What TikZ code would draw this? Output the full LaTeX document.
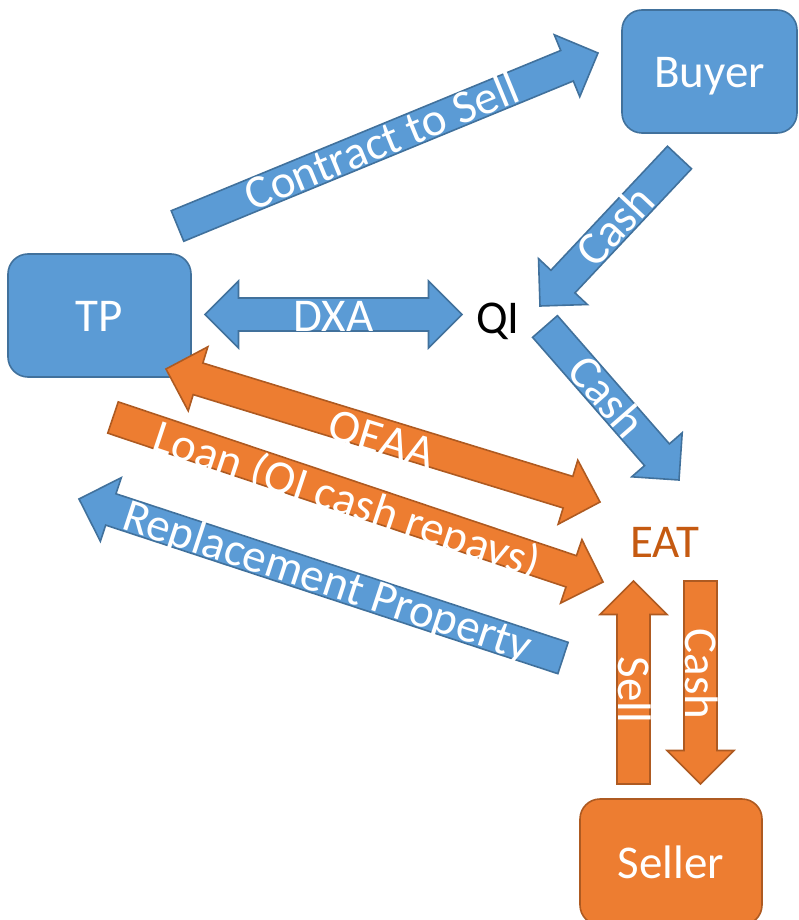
\documentclass[tikz,border=0pt]{standalone}
\usepackage{fontspec}
\setmainfont{Carlito}
\usetikzlibrary{calc}
\definecolor{bfill}{HTML}{5B9BD5}
\definecolor{bline}{HTML}{41719C}
\definecolor{ofill}{HTML}{ED7D31}
\definecolor{oline}{HTML}{AE5A21}
\definecolor{eatc}{HTML}{C55A11}
\newcommand{\shw}{16.5pt}
\newcommand{\hhw}{33.5pt}
\newcommand{\hln}{33.5pt}
% single block arrow: #1 style, #2 tail coordinate, #3 tip coordinate
\newcommand{\blkarrow}[3]{%
  \coordinate (#2hb) at ($(#3)!\hln!(#2)$);
  \draw[#1] ($(#2)!\shw!90:(#3)$) -- ($(#2hb)!\shw!90:(#3)$) -- ($(#2hb)!\hhw!90:(#3)$)
    -- (#3) -- ($(#2hb)!\hhw!-90:(#3)$) -- ($(#2hb)!\shw!-90:(#3)$)
    -- ($(#2)!\shw!-90:(#3)$) -- cycle;
}
% double block arrow: #1 style, #2 one tip, #3 other tip
\newcommand{\dblarrow}[3]{%
  \coordinate (#2ha) at ($(#2)!\hln!(#3)$);
  \coordinate (#2hb) at ($(#3)!\hln!(#2)$);
  \draw[#1] (#2) -- ($(#2ha)!\hhw!90:(#3)$) -- ($(#2ha)!\shw!90:(#3)$)
    -- ($(#2hb)!\shw!90:(#3)$) -- ($(#2hb)!\hhw!90:(#3)$) -- (#3)
    -- ($(#2hb)!\hhw!-90:(#3)$) -- ($(#2hb)!\shw!-90:(#3)$)
    -- ($(#2ha)!\shw!-90:(#3)$) -- ($(#2ha)!\hhw!-90:(#3)$) -- cycle;
}
\begin{document}
\begin{tikzpicture}[x=1pt,y=-1pt,
  bluearr/.style={fill=bfill,draw=bline,line width=1.6pt,line join=miter},
  orgarr/.style={fill=ofill,draw=oline,line width=1.6pt,line join=miter},
  bigfont/.style={font=\fontsize{47}{56}\selectfont},
  lbl/.style={bigfont,text=white,inner sep=0pt,text height=30pt,text depth=0pt},
  boxbase/.style={bigfont,text=white,line width=1.6pt,rounded corners=20pt,inner sep=0pt,text height=32pt,text depth=0pt},
  bluebox/.style={boxbase,fill=bfill,draw=bline},
  orgbox/.style={boxbase,fill=ofill,draw=oline},
  plain/.style={bigfont,inner sep=0pt,text height=30pt,text depth=0pt}]
\useasboundingbox (0,0) rectangle (799,920);
\clip (0,0) rectangle (799,920);

% boxes
\node[bluebox,minimum width=175pt,minimum height=123pt] (buyer) at (709.5,71.5) {Buyer};
\node[bluebox,minimum width=183pt,minimum height=123pt] (tp) at (99.5,315.5) {TP};
\node[orgbox,minimum width=182pt,minimum height=126pt] (seller) at (671,862) {Seller};
\node[plain] (qi) at (498,318) {QI};
\node[plain,text=eatc] (eat) at (664.5,542) {EAT};

% arrow end points
\coordinate (cts-s) at (177.5,226);
\coordinate (cts-e) at (598,53);
\coordinate (cb-s) at (679.5,157.5);
\coordinate (cb-e) at (540,306);
\coordinate (cq-s) at (545,326.5);
\coordinate (cq-e) at (679,480);
\coordinate (dxa-a) at (205,314.5);
\coordinate (dxa-b) at (462,314.5);
\coordinate (qe-a) at (166,369);
\coordinate (qe-b) at (600,502);
\coordinate (ln-s) at (113,417.5);
\coordinate (ln-e) at (603,582);
\coordinate (rp-s) at (563,658);
\coordinate (rp-e) at (79,499);
\coordinate (sl-s) at (633.5,784);
\coordinate (sl-e) at (633.5,581);
\coordinate (cs-s) at (700.5,581);
\coordinate (cs-e) at (700.5,784);

% arrows
\blkarrow{bluearr}{cts-s}{cts-e}
\blkarrow{bluearr}{cb-s}{cb-e}
\blkarrow{bluearr}{cq-s}{cq-e}
\dblarrow{bluearr}{dxa-a}{dxa-b}
\dblarrow{orgarr}{qe-a}{qe-b}
\blkarrow{orgarr}{ln-s}{ln-e}
\blkarrow{bluearr}{rp-s}{rp-e}
\blkarrow{orgarr}{sl-s}{sl-e}
\blkarrow{orgarr}{cs-s}{cs-e}

% labels
\path (cts-s) -- (cts-e) node[lbl,sloped,pos=0.486] (cts-t) {Contract to Sell};
\path (cb-s) -- (cb-e) node[lbl,sloped,pos=0.46] (cb-t) {Cash};
\path (cq-s) -- (cq-e) node[lbl,sloped,pos=0.46] (cq-t) {Cash};
\path (dxa-a) -- (dxa-b) node[lbl,sloped,pos=0.5,yshift=-2pt] (dxa-t) {DXA};
\path (qe-a) -- (qe-b) node[lbl,sloped,pos=0.5,yshift=-4pt] (qe-t) {QEAA};
\path (ln-s) -- (ln-e) node[lbl,sloped,pos=0.48,yshift=-4pt] (ln-t) {Loan (QI cash repays)};
\path (rp-s) -- (rp-e) node[lbl,sloped,pos=0.486] (rp-t) {Replacement Property};
\path (sl-s) -- (sl-e) node[lbl,rotate=-90,pos=0.463] (sl-t) {Sell};
\path (cs-s) -- (cs-e) node[lbl,rotate=-90,pos=0.458] (cs-t) {Cash};
\end{tikzpicture}
\end{document}
